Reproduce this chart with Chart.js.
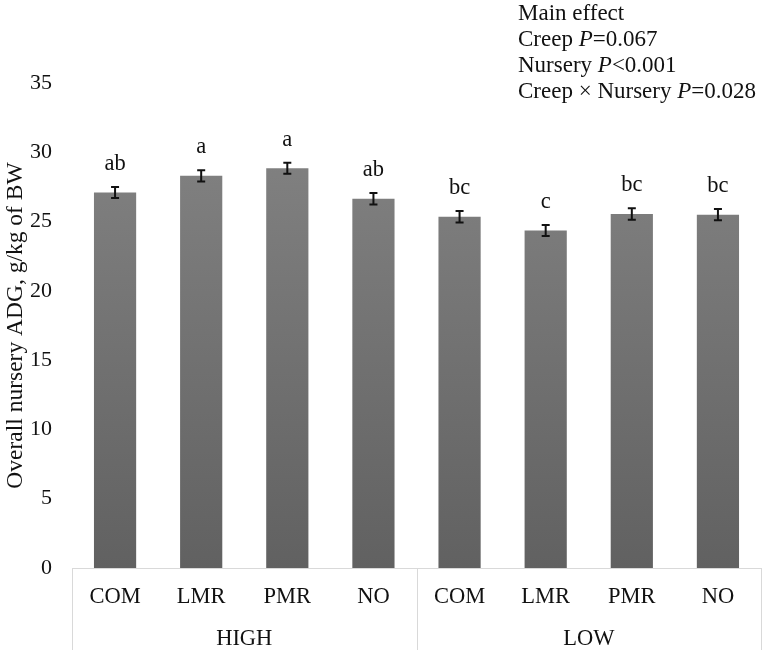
<!DOCTYPE html>
<html>
<head>
<meta charset="utf-8">
<script src="https://cdn.jsdelivr.net/npm/chart.js@4.4.0/dist/chart.umd.min.js"></script>
<style>
  html, body { margin: 0; padding: 0; background: #fff; }
  #wrap { width: 764px; height: 653px; }
</style>
</head>
<body>
<div id="wrap"><canvas id="chart"></canvas></div>
<script>
// data
const categories = ['COM', 'LMR', 'PMR', 'NO', 'COM', 'LMR', 'PMR', 'NO'];
const groups = ['HIGH', 'LOW'];
const adgValues = [27.1, 28.3, 28.85, 26.65, 25.35, 24.35, 25.55, 25.5];
const adgErrors = [0.4, 0.4, 0.4, 0.42, 0.42, 0.4, 0.42, 0.4];
const sigLetters = ['ab', 'a', 'a', 'ab', 'bc', 'c', 'bc', 'bc'];
const yMin = 0, yMax = 35, yStep = 5;

// annotation text, [text, italic]
const effectLines = [
  [['Main effect', false]],
  [['Creep ', false], ['P', true], ['=0.067', false]],
  [['Nursery ', false], ['P', true], ['<0.001', false]],
  [['Creep \u00d7 Nursery ', false], ['P', true], ['=0.028', false]]
];

const FONT = '"Liberation Serif", "Times New Roman", serif';
const TXT = '#111111';

// error bars + significance letters
const errorBarPlugin = {
  id: 'errorBars',
  afterDatasetsDraw(chart) {
    const ctx = chart.ctx;
    const ys = chart.scales.y;
    const meta = chart.getDatasetMeta(0);
    ctx.save();
    ctx.strokeStyle = '#111';
    ctx.lineWidth = 2;
    ctx.fillStyle = TXT;
    ctx.font = '22.5px ' + FONT;
    ctx.textAlign = 'center';
    ctx.textBaseline = 'alphabetic';
    meta.data.forEach((bar, i) => {
      const top = ys.getPixelForValue(adgValues[i] + adgErrors[i]);
      const bot = ys.getPixelForValue(adgValues[i] - adgErrors[i]);
      ctx.beginPath();
      ctx.moveTo(bar.x, top); ctx.lineTo(bar.x, bot);
      ctx.moveTo(bar.x - 4, top); ctx.lineTo(bar.x + 4, top);
      ctx.moveTo(bar.x - 4, bot); ctx.lineTo(bar.x + 4, bot);
      ctx.stroke();
      ctx.fillText(sigLetters[i], bar.x, top - 17);
    });
    ctx.restore();
  }
};

// box lines under the x axis separating the two groups
const groupLinesPlugin = {
  id: 'groupLines',
  afterDraw(chart) {
    const ctx = chart.ctx;
    const xs = chart.scales.x;
    const bottom = chart.height - 3;
    const mid = (xs.getPixelForValue(3) + xs.getPixelForValue(4)) / 2;
    ctx.save();
    ctx.strokeStyle = '#d9d9d9';
    ctx.lineWidth = 1;
    [xs.left, mid, xs.right].forEach(x => {
      ctx.beginPath();
      ctx.moveTo(Math.round(x) + 0.5, chart.chartArea.bottom);
      ctx.lineTo(Math.round(x) + 0.5, bottom);
      ctx.stroke();
    });
    ctx.restore();
  }
};

// main effect text block, top right
const effectTextPlugin = {
  id: 'effectText',
  afterDraw(chart) {
    const ctx = chart.ctx;
    ctx.save();
    ctx.fillStyle = TXT;
    ctx.textBaseline = 'alphabetic';
    ctx.textAlign = 'left';
    effectLines.forEach((parts, row) => {
      let x = 518;
      const y = 20 + row * 26;
      parts.forEach(([txt, italic]) => {
        ctx.font = (italic ? 'italic ' : '') + '23px ' + FONT;
        ctx.fillText(txt, x, y);
        x += ctx.measureText(txt).width;
      });
    });
    ctx.restore();
  }
};

const canvas = document.getElementById('chart');
const chart = new Chart(canvas.getContext('2d'), {
  type: 'bar',
  data: {
    labels: categories,
    datasets: [{
      data: adgValues,
      backgroundColor(c) {
        const area = c.chart.chartArea;
        if (!area) return '#707070';
        const g = c.chart.ctx.createLinearGradient(0, area.top, 0, area.bottom);
        g.addColorStop(0, '#868686');
        g.addColorStop(1, '#616161');
        return g;
      },
      borderWidth: 0,
      barPercentage: 0.49,
      categoryPercentage: 1.0,
      xAxisID: 'x'
    }]
  },
  options: {
    responsive: true,
    maintainAspectRatio: false,
    devicePixelRatio: 1,
    animation: false,
    layout: { padding: { top: 83, right: 3, left: 0, bottom: 0 } },
    plugins: {
      legend: { display: false },
      tooltip: { enabled: false }
    },
    scales: {
      x: {
        type: 'category',
        position: 'bottom',
        grid: { display: false, drawTicks: false },
        border: { display: true, color: '#d9d9d9', width: 1 },
        ticks: { color: TXT, font: { family: FONT, size: 22.5 }, padding: 16, maxRotation: 0, autoSkip: false },
        afterFit(s) { s.height = 46; }
      },
      group: {
        type: 'category',
        position: 'bottom',
        labels: groups,
        offset: true,
        grid: { display: false, drawTicks: false },
        border: { display: false },
        ticks: { color: TXT, font: { family: FONT, size: 22.5 }, padding: 12, maxRotation: 0 },
        afterFit(s) { s.height = 39; }
      },
      y: {
        min: yMin,
        max: yMax,
        grid: { display: false, drawTicks: false },
        border: { display: false },
        ticks: { stepSize: yStep, color: TXT, font: { family: FONT, size: 22 }, padding: 20 },
        title: {
          display: true,
          text: 'Overall nursery ADG, g/kg of BW',
          color: TXT,
          font: { family: FONT, size: 23.5 },
          padding: { top: 2, bottom: 0 }
        },
        afterFit(s) { s.width = 72; }
      }
    }
  },
  plugins: [errorBarPlugin, groupLinesPlugin, effectTextPlugin]
});
</script>
</body>
</html>
